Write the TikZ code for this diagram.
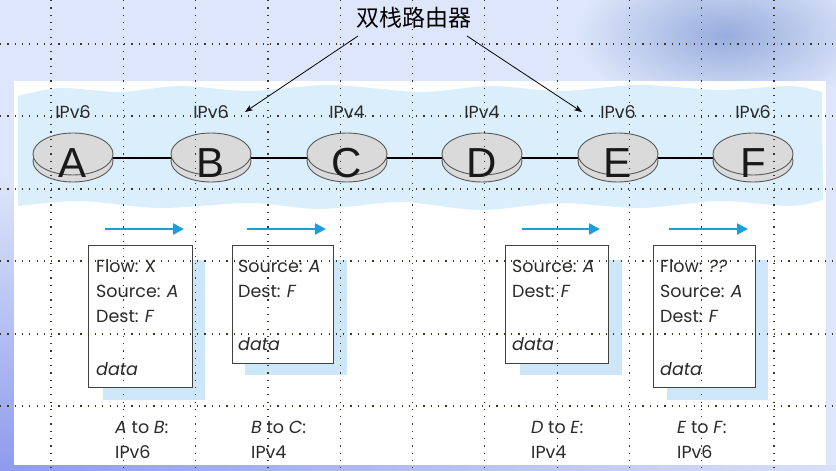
\documentclass[tikz,border=0pt]{standalone}
\usepackage{fontspec}
\setmainfont{Poppins}
\newfontfamily\cjk{Noto Sans CJK SC}
\newfontfamily\arial{Liberation Sans}
\usetikzlibrary{arrows.meta,calc}
\definecolor{slidebg}{HTML}{DDE6FA}
\definecolor{deco}{HTML}{97ADDD}
\definecolor{cloud}{HTML}{DBEEFB}
\definecolor{shadowc}{HTML}{CDE6F8}
\definecolor{flowc}{HTML}{1A9EE0}
\definecolor{txtc}{HTML}{2A2A2A}
\definecolor{gridc}{HTML}{3B3526}
\definecolor{diskc}{HTML}{DADADA}
\tikzset{
  griddot/.style={draw=gridc,line width=1.2pt,dash pattern=on 1.2pt off 6.1pt},
  link/.style={draw=black,line width=1.4pt},
  disk/.style={fill=diskc,draw=black!65,line width=0.9pt},
  routerlbl/.style={font=\arial\fontsize{42}{42}\selectfont,inner sep=0pt,text=black!90},
  iplbl/.style={font=\fontsize{17.5}{17.5}\selectfont,inner sep=0pt,text=txtc},
  pkt/.style={draw=black!75,fill=white,line width=1pt,inner sep=0pt},
  pkttxt/.style={anchor=base west,font=\fontsize{17.5}{17.5}\selectfont,inner sep=0pt,text=txtc},
  lnktxt/.style={anchor=base west,font=\fontsize{17.5}{17.5}\selectfont,inner sep=0pt,text=txtc},
  flow/.style={draw=flowc,line width=2.4pt,-{Triangle[length=11pt,width=11pt]}},
  callout/.style={draw=black,line width=0.8pt,-{Stealth[length=8pt,width=6pt]}},
}
\begin{document}
\begin{tikzpicture}[x=1pt,y=-1pt]
\useasboundingbox (0,0) rectangle (836,471);
% slide background
\fill[slidebg] (0,0) rectangle (836,471);
\shade[inner color=deco,outer color=slidebg] (725,35) ellipse[x radius=150pt,y radius=75pt];
\shade[top color=slidebg,bottom color=deco!70!blue!75] (0,175) rectangle (14,471);
\shade[left color=deco!70!blue!75,right color=slidebg!90!deco] (0,465) rectangle (836,471);
% white figure area
\fill[white] (14,81) rectangle (826,465);
% cloud band
\fill[cloud] plot[smooth] coordinates {(18,96) (60,88) (120,92) (180,86) (250,91) (330,85) (420,92) (490,86) (560,91) (640,85) (720,90) (790,86) (822,92)}
  -- plot[smooth] coordinates {(823,200) (790,206) (720,201) (640,208) (560,203) (480,210) (400,202) (320,209) (250,203) (160,208) (80,201) (18,206)} -- cycle;
% title and callouts
\node[font=\cjk\fontsize{23}{23}\selectfont,inner sep=0pt] (title) at (414,18) {双栈路由器};
\coordinate (t1) at (358,36);
\coordinate (t2) at (467,36);
\coordinate (e1) at (245,112);
\coordinate (e2) at (582,112);
\draw[callout] (t1) -- (e1);
\draw[callout] (t2) -- (e2);
% routers
\foreach \n/\x in {A/73,B/211,C/347,D/482,E/618,F/753}{
  \coordinate (c\n) at (\x,158);
}
\draw[link] (cA) -- (cB) -- (cC) -- (cD) -- (cE) -- (cF);
\foreach \n/\x/\v in {A/73/6,B/211/6,C/347/4,D/482/4,E/618/6,F/753/6}{
  \filldraw[disk] (\x,161) ellipse[x radius=40pt,y radius=21pt];
  \filldraw[disk] (\x,154) ellipse[x radius=40pt,y radius=21pt];
  \node[routerlbl,anchor=base] (\n) at (\x,177) {\n};
  \node[iplbl,anchor=base] (ip\n) at (\x,118) {IPv\v};
}
% packet shadows
\fill[shadowc] (103,260) rectangle (205,400);
\fill[shadowc] (245,260) rectangle (347,375);
\fill[shadowc] (520,260) rectangle (622,375);
\fill[shadowc] (667,260) rectangle (768,400);
% packets
\node[pkt,minimum width=104pt,minimum height=142pt] (p1) at (140,316) {};
\node[pkt,minimum width=101pt,minimum height=118pt] (p2) at (282.5,304) {};
\node[pkt,minimum width=103pt,minimum height=118pt] (p3) at (556.5,304) {};
\node[pkt,minimum width=102pt,minimum height=142pt] (p4) at (704,316) {};
% flow arrows
\coordinate (f1s) at (105,229); \coordinate (f1e) at (184,229);
\coordinate (f2s) at (247,229); \coordinate (f2e) at (326,229);
\coordinate (f3s) at (522,229); \coordinate (f3e) at (600,229);
\coordinate (f4s) at (669,229); \coordinate (f4e) at (748,229);
\draw[flow] (f1s) -- (f1e);
\draw[flow] (f2s) -- (f2e);
\draw[flow] (f3s) -- (f3e);
\draw[flow] (f4s) -- (f4e);
% packet texts
\node[pkttxt] (p1a) at (96,272) {Flow: X};
\node[pkttxt] (p1b) at (96,297) {Source: \textit{A}};
\node[pkttxt] (p1c) at (96,322) {Dest: \textit{F}};
\node[pkttxt] (p1d) at (96,375) {\textit{data}};
\node[pkttxt] (p2a) at (238,272) {Source: \textit{A}};
\node[pkttxt] (p2b) at (238,297) {Dest: \textit{F}};
\node[pkttxt] (p2c) at (238,350) {\textit{data}};
\node[pkttxt] (p3a) at (512,272) {Source: \textit{A}};
\node[pkttxt] (p3b) at (512,297) {Dest: \textit{F}};
\node[pkttxt] (p3c) at (512,350) {\textit{data}};
\node[pkttxt] (p4a) at (660,272) {Flow: \textit{??}};
\node[pkttxt] (p4b) at (660,297) {Source: \textit{A}};
\node[pkttxt] (p4c) at (660,322) {Dest: \textit{F}};
\node[pkttxt] (p4d) at (660,375) {\textit{data}};
% link labels
\node[lnktxt] (l1a) at (115,433) {\textit{A} to \textit{B}:};
\node[lnktxt] (l1b) at (115,458) {IPv6};
\node[lnktxt] (l2a) at (251,433) {\textit{B} to \textit{C}:};
\node[lnktxt] (l2b) at (251,458) {IPv4};
\node[lnktxt] (l3a) at (531,433) {\textit{D} to \textit{E}:};
\node[lnktxt] (l3b) at (531,458) {IPv4};
\node[lnktxt] (l4a) at (677,433) {\textit{E} to \textit{F}:};
\node[lnktxt] (l4b) at (677,458) {IPv6};
% dotted grid
\foreach \k in {0,...,10}{
  \draw[griddot] ({51+72.3*\k},0) -- ({51+72.3*\k},471);
}
\foreach \y in {44,116,189,261,334,406}{
  \draw[griddot] (0,\y) -- (836,\y);
}
\end{tikzpicture}
\end{document}
